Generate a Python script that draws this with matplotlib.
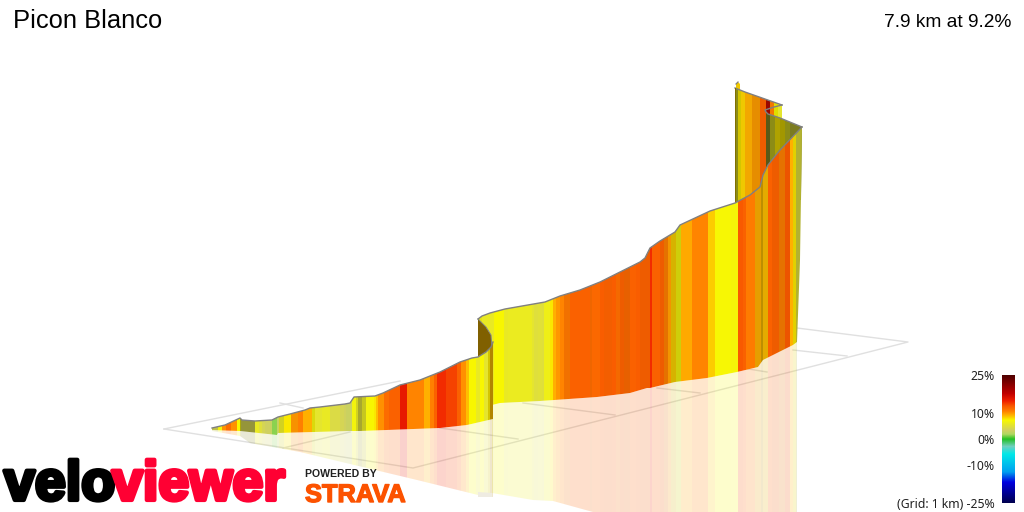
import numpy as np
import matplotlib
matplotlib.use('Agg')
import matplotlib.pyplot as plt
import matplotlib.patheffects as pe
from matplotlib.colors import LinearSegmentedColormap, Normalize
from matplotlib.patches import Polygon

# gradient colour scale
scale_grades = [-25, -17, -13, -6, -3, 0, 2, 3.5, 7.5, 9.5, 11, 13, 15, 18, 25]
scale_colors = ['#000050', '#0000e0', '#00a0f0', '#00e8e8', '#70d0c0', '#20c020', '#b0d860',
                '#d0d060', '#f8f800', '#ffb000', '#ff8000', '#f95a00', '#f02000', '#c00000', '#500000']
scale_ticks = [25, 10, 0, -10, -25]
scale_labels = ['25%', '10%', '0%', '-10%', '(Grid: 1 km) -25%']

# grid lines
grid_x = [[164, 400], [164, 413, 908, 797], [280, 303], [283, 350], [440, 518],
          [523, 615], [657, 700], [742, 767], [793, 847]]
grid_y = [[429, 381], [429, 468, 342, 328], [403, 408], [448, 432], [428, 439],
          [403, 415], [388, 393], [368, 372], [350, 356]]

# lower section of the climb
a_edges = [212, 218, 222, 226, 231, 237, 240, 241, 255, 259, 262, 265, 270, 272, 277, 279, 284, 291, 298, 303,
           312, 315, 322, 330, 340, 344, 346, 352, 356, 358, 362, 366, 370, 374, 376, 378, 384, 389, 392, 400,
           407, 424, 430, 434, 437, 446, 457, 461, 466, 469, 476, 480, 484, 488, 490, 494]
a_grades = [4, 7, 10.5, 12, 10.5, 7.5, 7, 4, 6, 5, 4, 3.5, 3, 1.5, 3, 6, 8, 10.3, 11, 9.5,
            7, 5.5, 6, 4.5, 4, 3.7, 3.3, 7, 6, 5, 6, 7, 7.5, 8, 9, 10.5, 12, 12.5, 12.5, 15.5,
            10.8, 9.5, 11, 12.5, 14.5, 13.8, 12.5, 10.5, 9, 7.5, 6, 7.5, 5.5, 8, 9]
a_shades = [.9, 1, 1, 1, 1, 1, .7, .7, 1, 1, 1, 1, 1, 1, 1, .9, 1, .97, 1, 1,
            .9, 1, 1, 1, 1, 1, 1, 1, .9, .75, .85, 1, 1, 1, 1, 1, 1, 1, 1, 1,
            1, 1, 1, 1, 1, 1, 1, 1, 1, 1, 1, 1, 1, .85, .7]
a_top_x = [212, 225, 240, 242, 255, 272, 278, 290, 305, 310, 320, 345, 350, 354, 375, 383, 400, 420, 440, 460,
           472, 478, 486, 491, 493]
a_top_y = [428, 425, 418, 420, 421, 420, 417, 414, 410, 408, 407, 404, 403, 397, 396, 393, 385, 380, 372, 362,
           358, 357, 352, 347, 342]
a_base_x = [493, 467, 440, 360, 350, 278, 277, 240, 212]
a_base_y = [419, 425, 428, 431, 431, 433, 435, 431, 430]
a_mirror_x = [212, 240, 250, 300, 350, 417, 478, 493]
a_mirror_y = [431, 436, 443, 452, 464, 480, 495, 497]

# middle and upper section, nearest to the viewer
b_edges = [478, 482, 490, 494, 504, 508, 532, 534, 538, 542, 544, 550, 553, 556, 560, 564, 570, 590, 592, 600,
           604, 612, 616, 620, 624, 630, 636, 640, 650, 652, 660, 664, 668, 671, 676, 681, 692, 708, 715, 731,
           738, 743, 746, 755, 761, 763, 768, 772, 779, 785, 790, 793, 796, 802]
b_grades = [6.5, 6, 6, 7.5, 6, 6.2, 5.5, 5, 5.2, 5, 6.5, 8, 9.5, 10.2, 10.8, 11.5, 12.5, 12, 12.3,
            12.8, 12.5, 12.8, 12, 12.6, 12.3, 12.5, 12.7, 12.6, 14.5, 12.6, 12.5, 11, 10, 8.5, 7, 9.7, 10.8, 8.6, 7.4,
            7.2, 13, 12.6, 11.3, 9.5, 9, 9, 12.5, 12.5, 11, 13, 9.5, 8, 5]
b_shades = [.95, 1, 1, 1, 1, 1, 1, 1, 1, 1, 1, 1, 1, 1, 1, .95, 1, .95, 1,
            1, .97, 1, .97, .95, .92, 1, 1, .95, 1, 1, .95, .9, .95, .85, .85, 1, 1, 1, 1,
            1, 1, 1, 1, .9, .75, .9, 1, .95, .9, .95, 1, .9, .8]
b_top_x = [478, 482, 490, 505, 545, 560, 580, 600, 620, 640, 645, 650, 660, 675, 680, 710, 735, 750, 760, 763, 768, 780, 802]
b_top_y = [319, 316, 313, 309, 302, 296, 290, 282, 272, 262, 258, 248, 241, 232, 225, 211, 203, 195, 187, 175, 165, 150, 127]
b_base_x = [800, 797, 793, 777, 763, 758, 737, 707, 675, 650, 647, 630, 597, 540, 500, 492, 492, 491, 486]
b_base_y = [260, 342, 345, 353, 360, 367, 372, 378, 382, 388, 388, 393, 397, 401, 403, 405, 347, 335, 327]
b_mirror_x = [492, 533, 553, 593, 600, 797, 797]
b_mirror_y = [493, 500, 501, 512, 516, 516, 342]

# hairpin just behind the summit stretch
c_edges = [765, 770, 775, 780, 785, 790, 800, 803]
c_grades = [5, 6, 8, 8, 6, 5, 5]
c_shades = [.4, .6, .7, .65, .6, .55, .6]
c_top_x = [766, 768, 780, 802]
c_top_y = [113, 114, 118, 127]
c_base_x = [801, 766]
c_base_y = [200, 200]
hook_x = [782, 774, 765, 766, 768]
hook_y = [105, 107, 110, 112, 114]

# summit stretch, furthest away
d_edges = [735, 738, 741, 745, 752, 760, 766, 770, 774, 778, 783]
d_grades = [6, 8, 8.5, 9.4, 10, 12.5, 17, 11, 7.5, 5.5]
d_shades = [.6, .85, .95, .95, .9, .95, .75, .95, .9, 1]
d_top_x = [735, 745, 782]
d_top_y = [88, 92, 105]
d_base_x = [782, 735]
d_base_y = [250, 250]

# little tail above the summit stretch
e_edges = [735, 741]
e_grades = [8.5]
e_shades = [.95]
e_top_x = [736, 738, 740]
e_top_y = [84, 82, 84]
e_base_x = [740, 736]
e_base_y = [92, 90]

# back of the fold in the road
fold_x = [478, 486, 491, 492, 491, 486, 478]
fold_y = [319, 327, 335, 347, 349, 352, 357]
fold_mirror_x = [478, 492, 492, 478]
fold_mirror_y = [492, 493, 497, 497]

cmap = LinearSegmentedColormap.from_list(
    'grade', [((g + 25) / 50, c) for g, c in zip(scale_grades, scale_colors)])
norm = Normalize(-25, 25)

fig = plt.figure(figsize=(10.24, 5.12), dpi=100)
ax = fig.add_axes([0, 0, 1, 1])
ax.set_xlim(0, 1024)
ax.set_ylim(512, 0)
ax.axis('off')


def stripes(edges, grades, shades, outline_x, outline_y, alpha, z):
    outline = Polygon(np.column_stack([outline_x, outline_y]), closed=True, fc='none', ec='none', zorder=z)
    ax.add_patch(outline)
    cols = cmap(norm(np.array(grades)))
    cols[:, :3] *= np.array(shades)[:, None]
    cols[:, 3] = alpha
    bars = ax.bar(edges[:-1], 530, width=np.diff(edges), bottom=0, align='edge', color=cols,
                  linewidth=0, zorder=z)
    for b in bars:
        b.set_clip_path(outline)
    return outline


for gx, gy in zip(grid_x, grid_y):
    ax.plot(gx, gy, color='#e0e0e0', lw=1.0, zorder=1)

# reflections on the ground
stripes(a_edges, a_grades, a_shades, a_top_x[:1] + a_mirror_x + a_base_x[:-1],
        a_top_y[:1] + a_mirror_y + a_base_y[:-1], 0.2, 2)
stripes(b_edges, b_grades, b_shades, b_mirror_x + b_base_x[1:16], b_mirror_y + b_base_y[1:16], 0.2, 2)
ax.fill(fold_mirror_x, fold_mirror_y, color='#efece2', lw=0, zorder=2)

# the ribbon itself, back to front
stripes(e_edges, e_grades, e_shades, e_top_x + e_base_x, e_top_y + e_base_y, 1, 3)
ax.plot(e_top_x[:2], e_top_y[:2], color='#808080', lw=0.9, zorder=3.1)
stripes(d_edges, d_grades, d_shades, d_top_x + d_base_x, d_top_y + d_base_y, 1, 4)
ax.plot(d_top_x, d_top_y, color='#808080', lw=1.0, zorder=4.1)
ax.plot([735, 735], [88, 205], color='#807000', lw=0.7, zorder=4.1)
stripes(c_edges, c_grades, c_shades, c_top_x + c_base_x, c_top_y + c_base_y, 1, 5)
ax.plot(hook_x + c_top_x[1:], hook_y + c_top_y[1:], color='#808080', lw=1.0, zorder=5.1)
ax.fill(fold_x, fold_y, color='#806000', lw=0, zorder=6)
stripes(b_edges, b_grades, b_shades, b_top_x + b_base_x, b_top_y + b_base_y, 1, 7)
ax.plot(b_top_x, b_top_y, color='#808080', lw=1.0, zorder=7.1)
ax.plot(b_base_x[-3:] + b_top_x[:1], b_base_y[-3:] + b_top_y[:1], color='#808080', lw=0.7, zorder=7.1)
stripes(a_edges, a_grades, a_shades, a_top_x + a_base_x, a_top_y + a_base_y, 1, 8)
ax.plot(a_top_x, a_top_y, color='#808080', lw=1.0, zorder=8.1)

# headings
ax.text(13, 28, 'Picon Blanco', family='Liberation Sans', fontsize=18.4, color='black', zorder=10)
ax.text(1011, 27, '7.9 km at 9.2%', family='Liberation Sans', fontsize=13.8, color='black', ha='right', zorder=10)

# logos
heavy = 'Liberation Sans'
ax.text(4, 500, 'velo', family=heavy, weight='bold', fontsize=40, color='black', zorder=10,
        path_effects=[pe.withStroke(linewidth=3, foreground='black')])
ax.text(112, 500, 'viewer', family=heavy, weight='bold', fontsize=40, color='#ff0033', zorder=11,
        path_effects=[pe.withStroke(linewidth=3, foreground='#ff0033')])
ax.text(305, 477, 'POWERED BY', family=heavy, weight='bold', fontsize=7.6, color='#202020', zorder=10)
ax.text(305, 502, 'STRAVA', family=heavy, weight='bold', fontsize=18.3, color='#fc5200', zorder=10,
        path_effects=[pe.withStroke(linewidth=1, foreground='#fc5200')])

# colour bar
cax = fig.add_axes([1002 / 1024, 1 - 503 / 512, 13 / 1024, 128 / 512])
cax.imshow(np.linspace(25, -25, 128)[:, None], cmap=cmap, norm=norm, aspect='auto', extent=(0, 1, -25, 25))
cax.set_xticks([])
cax.set_yticks(scale_ticks)
cax.set_yticklabels(scale_labels, family='Noto Sans', fontsize=8.8, color='#202020', va='center_baseline')
cax.tick_params(axis='y', length=0, pad=5)
for s in cax.spines.values():
    s.set_visible(False)

fig.savefig('out.png', dpi=100)
